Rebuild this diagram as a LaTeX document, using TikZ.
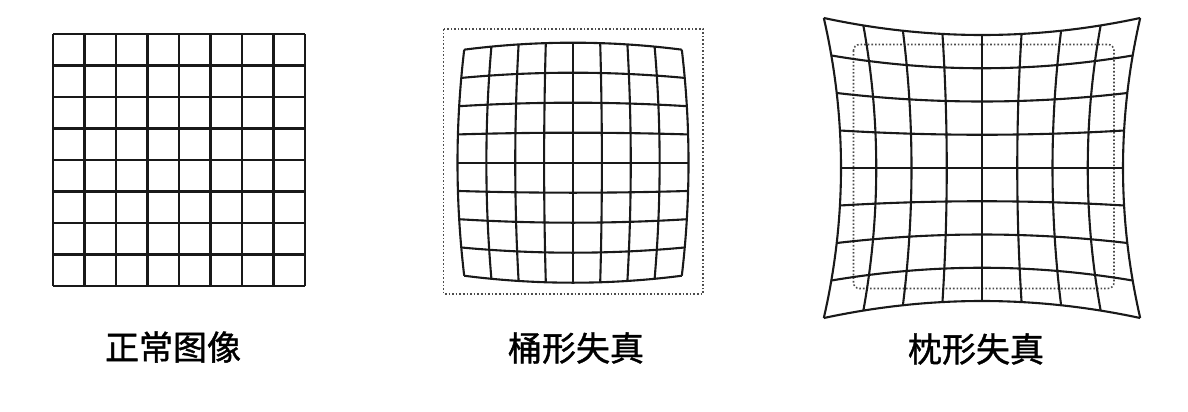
\documentclass[tikz,border=0pt]{standalone}
\usepackage{fontspec}
\newfontfamily\cjk[FakeBold=1.2]{Noto Sans CJK SC}
\begin{document}
\begin{tikzpicture}[x=0.5pt,y=-0.5pt,
  gridline/.style={line width=1.05pt, black!90, line join=round},
  frame/.style={densely dotted, line width=0.8pt, black!70},
  captext/.style={font=\cjk\fontsize{17pt}{20pt}\selectfont, inner sep=0pt}]
\useasboundingbox (0,0) rectangle (1188,412);
% normal image
\foreach \i in {0,...,8} {
  \draw[gridline] ({53+\i*31.5},34) -- ({53+\i*31.5},286);
  \draw[gridline] (53,{34+\i*31.5}) -- (305,{34+\i*31.5});
}
% barrel distortion
\draw[frame] (443.5,29) rectangle (703,294);
\foreach \i in {0,...,8} {
  \pgfmathsetmacro\v{\i/4-1}
  \draw[gridline] plot[variable=\t, domain=-1:1, samples=41]
    ({573+115.5*(\t)*(1-0.058*(\v)*(\v))}, {162.7+120*(\v)*(1-0.058*(\t)*(\t))});
  \draw[gridline] plot[variable=\t, domain=-1:1, samples=41]
    ({573+115.5*(\v)*(1-0.058*(\t)*(\t))}, {162.7+120*(\t)*(1-0.058*(\v)*(\v))});
}
% pincushion distortion
\draw[frame, rounded corners=3] (853.5,44.5) rectangle (1114,288.5);
\foreach \i in {0,...,8} {
  \pgfmathsetmacro\v{\i/4-1}
  \draw[gridline] plot[variable=\t, domain=-1:1, samples=41]
    ({982+141*(\t)*(1+0.122*(\v)*(\v))}, {168+133*(\v)*(1+0.128*(\t)*(\t))});
  \draw[gridline] plot[variable=\t, domain=-1:1, samples=41]
    ({982+141*(\v)*(1+0.122*(\t)*(\t))}, {168+133*(\t)*(1+0.128*(\v)*(\v))});
}
% captions
\node[captext] (cap1) at (173,347) {正常图像};
\node[captext] (cap2) at (576,348) {桶形失真};
\node[captext] (cap3) at (976,349) {枕形失真};
\end{tikzpicture}
\end{document}
